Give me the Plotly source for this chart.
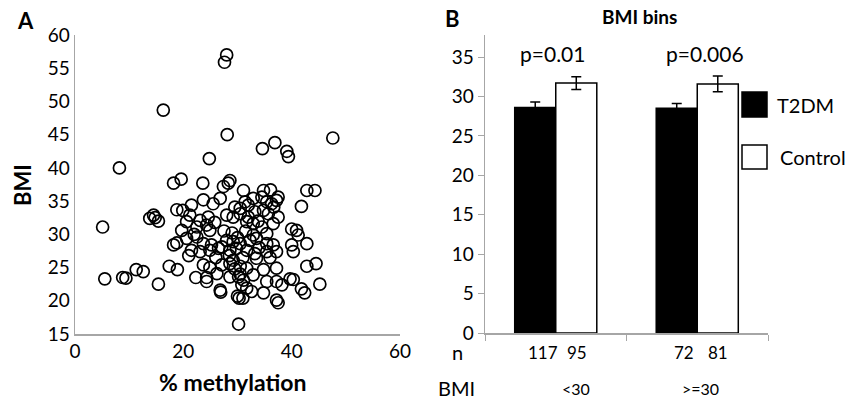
import plotly.graph_objects as go

# ---------------- Panel A data: % methylation vs BMI ----------------
methylation = [
    28.0, 27.6, 16.3, 28.1, 47.6, 34.6, 36.9, 39.1, 39.4, 24.8, 8.2,
    18.2, 19.6, 23.6, 27.4, 28.3, 28.6, 31.1, 34.8, 36.1, 37.5, 42.8, 44.3,
    23.7, 25.5, 26.8, 31.4, 32.0, 32.9, 34.5, 35.4, 36.3, 37.2, 36.7, 41.8,
    21.5, 18.8, 19.9, 21.2, 23.1, 24.6, 28.0, 29.2, 30.5, 32.0, 33.2, 34.8, 35.7, 37.5, 29.5, 30.5,
    13.8, 14.5, 14.8, 15.4,
    5.1, 20.6, 22.5, 24.3, 24.9, 19.7, 31.7, 32.9, 34.5, 35.4, 36.6, 32.9, 40.0, 40.9, 41.2,
    20.6, 22.5, 23.7, 25.2, 26.5, 28.0, 29.2, 30.5, 32.3, 33.5, 35.4, 36.6, 37.2, 18.2, 18.8, 40.0, 42.8,
    21.5, 23.1, 24.9, 27.1, 28.6, 29.8, 31.7, 33.2, 35.4, 33.5, 40.3,
    23.7, 24.9, 27.1, 28.6, 29.2, 30.5, 31.7, 34.8, 37.2, 17.4, 18.9, 11.3, 12.6, 42.8, 44.5,
    5.5, 8.8, 9.4, 22.3, 24.3, 24.3, 26.2, 28.6, 30.2, 31.1, 32.9, 30.8, 31.7, 32.6, 35.4, 37.2, 38.2,
    39.7, 40.3, 15.4, 45.2,
    26.8, 26.9, 30.0, 30.3, 31.0, 34.8, 37.2, 37.5, 41.8, 42.4, 30.2,
    29.0, 30.0, 28.5, 31.0, 29.5, 30.5, 26.0, 27.5, 31.5, 33.8, 22.0, 21.0, 25.8, 34.0, 36.0,
]
bmi = [
    57.0, 55.9, 48.7, 45.0, 44.5, 42.9, 43.8, 42.5, 41.7, 41.4, 40.0,
    37.7, 38.3, 37.7, 37.2, 37.7, 38.1, 36.6, 36.6, 36.7, 35.6, 36.6, 36.6,
    35.2, 34.6, 35.4, 34.9, 34.4, 35.4, 35.6, 34.9, 34.6, 35.1, 34.1, 34.2,
    34.4, 33.7, 33.6, 32.9, 32.1, 32.6, 32.9, 32.6, 33.1, 32.6, 33.4, 33.6, 33.1, 32.6, 34.1, 33.9,
    32.4, 32.9, 32.5, 32.0,
    31.1, 31.9, 31.1, 31.4, 30.6, 30.6, 31.9, 31.6, 31.1, 30.1, 31.6, 29.9, 30.8, 30.6, 29.9,
    29.4, 29.6, 28.6, 28.4, 27.9, 29.1, 28.9, 28.6, 29.1, 29.4, 28.6, 28.4, 27.4, 28.4, 28.7, 28.4, 28.6,
    27.6, 27.4, 27.6, 28.1, 27.6, 27.9, 27.6, 27.1, 27.4, 26.4, 27.4,
    25.4, 25.0, 25.4, 25.6, 26.1, 25.2, 24.9, 24.7, 24.9, 25.2, 24.7, 24.7, 24.4, 25.2, 25.6,
    23.3, 23.5, 23.4, 23.5, 23.5, 22.9, 24.1, 23.6, 23.6, 23.1, 23.9, 22.4, 21.9, 21.4, 22.9, 22.9, 22.4,
    23.3, 23.2, 22.5, 22.5,
    21.6, 21.3, 20.7, 20.4, 20.4, 21.2, 20.1, 19.7, 21.8, 21.2, 16.5,
    30.2, 29.5, 26.8, 26.5, 24.8, 24.0, 26.5, 30.5, 30.5, 32.0, 30.0, 26.8, 31.8, 28.0, 26.5,
]

# ---------------- Panel B data: BMI bins ----------------
bins = ["<30", ">=30"]
t2dm_mean = [28.6, 28.5]
t2dm_err = [0.7, 0.6]
control_mean = [31.7, 31.6]
control_err = [0.8, 1.0]
t2dm_n = [117, 72]
control_n = [95, 81]
p_values = ["p=0.01", "p=0.006"]

FONT = "Lato, 'Open Sans', sans-serif"
AXIS_GRAY = "#a6a6a6"
W, H = 849, 402

fig = go.Figure()

fig.add_trace(go.Scatter(
    x=methylation, y=bmi, mode="markers",
    marker=dict(symbol="circle-open", size=12, color="black", line=dict(width=1.7, color="black")),
    xaxis="x", yaxis="y", showlegend=False,
))

fig.add_trace(go.Bar(
    x=bins, y=t2dm_mean, name="T2DM",
    marker=dict(color="black", line=dict(color="black", width=1.5)),
    error_y=dict(type="data", array=t2dm_err, color="black", thickness=1.5, width=5),
    xaxis="x2", yaxis="y2", showlegend=False,
))
fig.add_trace(go.Bar(
    x=bins, y=control_mean, name="Control",
    marker=dict(color="white", line=dict(color="black", width=1.5)),
    error_y=dict(type="data", array=control_err, color="black", thickness=1.5, width=5),
    xaxis="x2", yaxis="y2", showlegend=False,
))

def px_x(p):
    return p / W

def px_y(p):
    return 1 - p / H

def txt(size):
    return dict(size=size, family=FONT, color="black")

def ann(text, x, y, size, xref="paper", yref="paper", xanchor="center", **kw):
    return dict(text=text, x=x, y=y, xref=xref, yref=yref, xanchor=xanchor, yanchor="middle",
                showarrow=False, font=txt(size), **kw)

annotations = [
    ann("<b>A</b>", px_x(25), px_y(20), 22),
    ann("<b>B</b>", px_x(452), px_y(19), 22),
    ann("<b>BMI bins</b>", px_x(639), px_y(16), 19),
    ann("<b>BMI</b>", px_x(23), px_y(185), 22, textangle=-90),
    ann("<b>% methylation</b>", px_x(232), px_y(382), 23),
    ann("n", px_x(458), px_y(352), 20),
    ann("BMI", px_x(456), px_y(388), 20),
    ann("T2DM", px_x(775), px_y(105), 20, xanchor="left"),
    ann("Control", px_x(778), px_y(157), 20, xanchor="left"),
]
for b, p, sh in zip(bins, p_values, [-3, 8]):
    annotations.append(ann(p, b, 35.4, 21, xref="x2", yref="y2", xshift=sh))
for b, nt, nc in zip(bins, t2dm_n, control_n):
    annotations.append(ann(str(nt), b, px_y(352), 17, xref="x2", xshift=-13))
    annotations.append(ann(str(nc), b, px_y(352), 17, xref="x2", xshift=21))
for b, sh in zip(bins, [20, 3]):
    annotations.append(ann(b, b, px_y(388), 16, xref="x2", xshift=sh))

shapes = [
    dict(type="rect", xref="paper", yref="paper", x0=px_x(742), x1=px_x(767), y0=px_y(117), y1=px_y(92),
         fillcolor="black", line=dict(color="black", width=1.5)),
    dict(type="rect", xref="paper", yref="paper", x0=px_x(742), x1=px_x(767), y0=px_y(169), y1=px_y(145),
         fillcolor="white", line=dict(color="black", width=1.5)),
]

axis_common = dict(showgrid=False, zeroline=False, showline=True, linecolor=AXIS_GRAY, linewidth=1.5,
                   automargin=False)

fig.update_layout(
    template="none",
    width=W, height=H, autosize=False,
    margin=dict(l=0, r=0, t=0, b=0, pad=0, autoexpand=False),
    paper_bgcolor="white", plot_bgcolor="white",
    font=dict(family=FONT, color="black"),
    barmode="group", bargap=0.42, bargroupgap=0,
    hovermode=False,
    xaxis=dict(domain=[px_x(75), px_x(400)], range=[0, 60], dtick=20, ticks="",
               tickfont=txt(19), anchor="y", **axis_common),
    yaxis=dict(domain=[px_y(334), px_y(35)], range=[15, 60], dtick=5, ticks="",
               tickfont=txt(19), anchor="x", **axis_common),
    xaxis2=dict(domain=[px_x(485), px_x(768)], range=[-0.5, 1.5], ticks="outside", tickson="boundaries",
                ticklen=6, tickcolor=AXIS_GRAY, showticklabels=False, anchor="y2", **axis_common),
    yaxis2=dict(domain=[px_y(333), px_y(35)], range=[0, 37.8], dtick=5, ticks="outside", ticklen=6,
                tickcolor=AXIS_GRAY, tickfont=txt(19), anchor="x2", **axis_common),
    annotations=annotations,
    shapes=shapes,
)

fig.write_html("out.html", config={"displayModeBar": False, "staticPlot": True},
               post_script="document.body.style.margin='0';document.body.style.overflow='hidden';")
